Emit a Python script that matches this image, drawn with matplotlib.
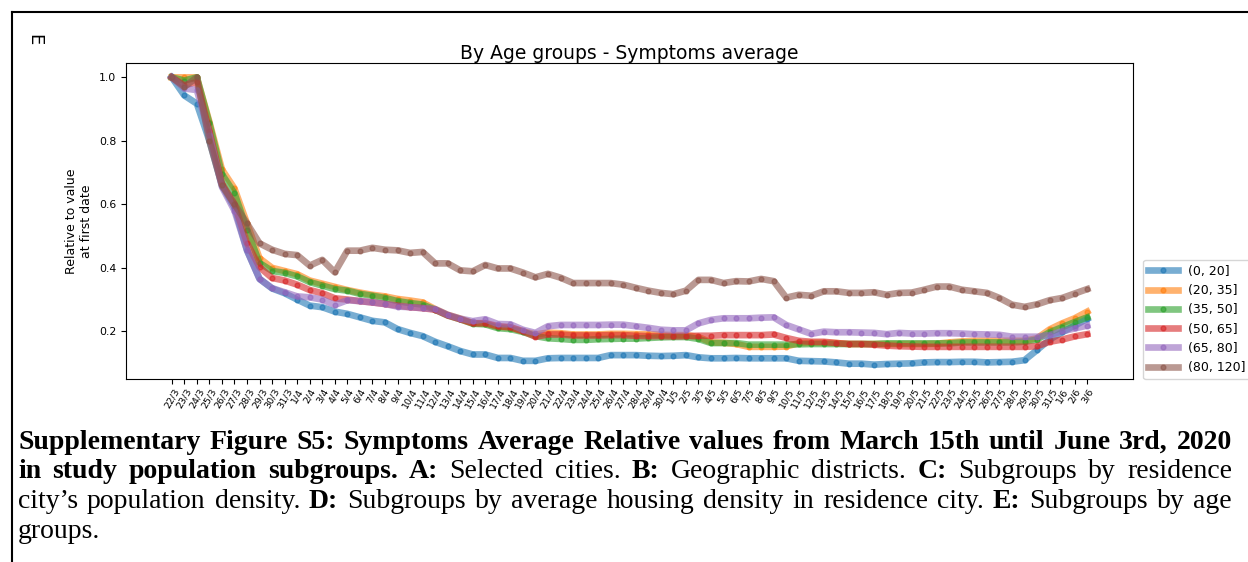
import matplotlib
matplotlib.use("Agg")
import matplotlib.pyplot as plt
from matplotlib.transforms import IdentityTransform

W, H = 1248, 562

dates = ["22/3", "23/3", "24/3", "25/3", "26/3", "27/3", "28/3", "29/3", "30/3", "31/3",
         "1/4", "2/4", "3/4", "4/4", "5/4", "6/4", "7/4", "8/4", "9/4", "10/4",
         "11/4", "12/4", "13/4", "14/4", "15/4", "16/4", "17/4", "18/4", "19/4", "20/4",
         "21/4", "22/4", "23/4", "24/4", "25/4", "26/4", "27/4", "28/4", "29/4", "30/4",
         "1/5", "2/5", "3/5", "4/5", "5/5", "6/5", "7/5", "8/5", "9/5", "10/5",
         "11/5", "12/5", "13/5", "14/5", "15/5", "16/5", "17/5", "18/5", "19/5", "20/5",
         "21/5", "22/5", "23/5", "24/5", "25/5", "26/5", "27/5", "28/5", "29/5", "30/5",
         "31/5", "1/6", "2/6", "3/6"]

groups = ["(0, 20]", "(20, 35]", "(35, 50]", "(50, 65]", "(65, 80]", "(80, 120]"]

age_0_20 = [1.0, 0.943, 0.917, 0.80, 0.66, 0.59, 0.455, 0.365, 0.335, 0.32,
            0.30, 0.281, 0.276, 0.262, 0.255, 0.244, 0.233, 0.228, 0.207, 0.195,
            0.185, 0.167, 0.153, 0.138, 0.127, 0.127, 0.116, 0.116, 0.107, 0.107,
            0.115, 0.116, 0.116, 0.116, 0.116, 0.125, 0.125, 0.125, 0.123, 0.122,
            0.123, 0.125, 0.118, 0.115, 0.115, 0.116, 0.115, 0.115, 0.115, 0.115,
            0.107, 0.106, 0.105, 0.102, 0.098, 0.098, 0.095, 0.097, 0.098, 0.099,
            0.102, 0.103, 0.103, 0.104, 0.104, 0.102, 0.103, 0.104, 0.109, 0.141,
            0.174, 0.197, 0.218, 0.239]
age_20_35 = [1.0, 1.0, 1.0, 0.86, 0.71, 0.65, 0.54, 0.43, 0.40, 0.39,
             0.38, 0.36, 0.35, 0.34, 0.33, 0.322, 0.315, 0.31, 0.302, 0.297,
             0.291, 0.27, 0.252, 0.24, 0.226, 0.224, 0.214, 0.212, 0.20, 0.19,
             0.196, 0.194, 0.19, 0.19, 0.19, 0.192, 0.192, 0.191, 0.191, 0.189,
             0.188, 0.188, 0.182, 0.165, 0.164, 0.16, 0.151, 0.151, 0.151, 0.152,
             0.163, 0.164, 0.164, 0.163, 0.16, 0.16, 0.16, 0.16, 0.16, 0.16,
             0.16, 0.161, 0.165, 0.168, 0.17, 0.17, 0.17, 0.17, 0.17, 0.178,
             0.206, 0.225, 0.241, 0.262]
age_35_50 = [1.0, 0.99, 1.0, 0.855, 0.695, 0.635, 0.52, 0.415, 0.39, 0.384,
             0.373, 0.355, 0.344, 0.333, 0.328, 0.318, 0.312, 0.305, 0.295, 0.289,
             0.284, 0.268, 0.25, 0.238, 0.224, 0.222, 0.21, 0.207, 0.198, 0.185,
             0.178, 0.176, 0.173, 0.173, 0.175, 0.176, 0.177, 0.177, 0.179, 0.181,
             0.182, 0.182, 0.176, 0.163, 0.163, 0.163, 0.158, 0.158, 0.158, 0.158,
             0.159, 0.16, 0.16, 0.16, 0.16, 0.16, 0.16, 0.162, 0.162, 0.162,
             0.162, 0.162, 0.162, 0.165, 0.165, 0.165, 0.165, 0.165, 0.167, 0.174,
             0.197, 0.213, 0.229, 0.244]
age_50_65 = [1.0, 0.975, 0.985, 0.83, 0.665, 0.60, 0.478, 0.402, 0.368, 0.36,
             0.347, 0.33, 0.32, 0.304, 0.30, 0.295, 0.291, 0.286, 0.281, 0.276,
             0.273, 0.268, 0.25, 0.238, 0.225, 0.226, 0.216, 0.213, 0.20, 0.183,
             0.19, 0.19, 0.187, 0.187, 0.187, 0.188, 0.188, 0.186, 0.185, 0.185,
             0.184, 0.185, 0.186, 0.186, 0.188, 0.188, 0.188, 0.188, 0.19, 0.179,
             0.17, 0.167, 0.167, 0.163, 0.16, 0.16, 0.158, 0.155, 0.153, 0.152,
             0.151, 0.151, 0.151, 0.151, 0.151, 0.151, 0.151, 0.151, 0.151, 0.153,
             0.167, 0.174, 0.184, 0.191]
age_65_80 = [1.0, 0.965, 0.96, 0.82, 0.655, 0.58, 0.455, 0.365, 0.336, 0.323,
             0.31, 0.307, 0.30, 0.283, 0.298, 0.295, 0.291, 0.286, 0.278, 0.276,
             0.273, 0.27, 0.252, 0.24, 0.232, 0.238, 0.223, 0.222, 0.205, 0.195,
             0.216, 0.22, 0.22, 0.22, 0.22, 0.221, 0.221, 0.216, 0.211, 0.205,
             0.203, 0.203, 0.225, 0.236, 0.241, 0.241, 0.241, 0.243, 0.244, 0.22,
             0.206, 0.192, 0.199, 0.197, 0.197, 0.196, 0.195, 0.191, 0.195, 0.193,
             0.193, 0.194, 0.194, 0.193, 0.191, 0.19, 0.189, 0.183, 0.183, 0.183,
             0.188, 0.20, 0.209, 0.218]
age_80_120 = [1.0, 0.97, 1.0, 0.80, 0.66, 0.60, 0.54, 0.477, 0.457, 0.444,
              0.44, 0.407, 0.425, 0.386, 0.454, 0.454, 0.463, 0.457, 0.455, 0.447,
              0.45, 0.414, 0.414, 0.392, 0.389, 0.409, 0.398, 0.398, 0.385, 0.37,
              0.381, 0.369, 0.352, 0.352, 0.352, 0.352, 0.347, 0.337, 0.328, 0.321,
              0.317, 0.328, 0.362, 0.362, 0.352, 0.358, 0.357, 0.365, 0.358, 0.306,
              0.315, 0.312, 0.326, 0.326, 0.321, 0.321, 0.323, 0.315, 0.321, 0.322,
              0.331, 0.341, 0.341, 0.331, 0.326, 0.321, 0.305, 0.284, 0.277, 0.285,
              0.298, 0.305, 0.319, 0.333]

series = [age_0_20, age_20_35, age_35_50, age_50_65, age_65_80, age_80_120]

# caption lines: (word, bold)
cap1 = [(w, True) for w in "Supplementary Figure S5: Symptoms Average Relative values from March 15th until June 3rd, 2020".split()]
cap2 = [(w, True) for w in "in study population subgroups. A:".split()] + \
       [("Selected", False), ("cities.", False), ("B:", True), ("Geographic", False), ("districts.", False),
        ("C:", True), ("Subgroups", False), ("by", False), ("residence", False)]
cap3 = [(w, False) for w in "city\u2019s population density.".split()] + [("D:", True)] + \
       [(w, False) for w in "Subgroups by average housing density in residence city.".split()] + \
       [("E:", True)] + [(w, False) for w in "Subgroups by age".split()]
cap4 = [("groups.", False)]


def put_line(fig, r, ybase, tokens, x0, x1, size, justify=True):
    objs = []
    for word, bold in tokens:
        t = fig.text(0, H - ybase, word, transform=IdentityTransform(), fontsize=size,
                     family="Liberation Serif", weight="bold" if bold else "normal",
                     va="baseline", ha="left")
        objs.append(t)
    widths = [t.get_window_extent(renderer=r).width for t in objs]
    if justify and len(objs) > 1:
        gap = (x1 - x0 - sum(widths)) / (len(objs) - 1)
    else:
        gap = size * 0.25 * 100 / 72
    x = x0
    for t, w in zip(objs, widths):
        t.set_x(x)
        x += w + gap


fig = plt.figure(figsize=(W / 100, H / 100), dpi=100)
ax = fig.add_axes([126 / W, 1 - 379 / H, (1133 - 126) / W, (379 - 63) / H])

x = list(range(len(dates)))
for vals, name in zip(series, groups):
    ax.plot(x, vals, marker="o", markersize=3.4, linewidth=4.8, alpha=0.6, label=name)

ax.set_xticks(x)
ax.set_xticklabels(dates, rotation=60, fontsize=6.8)
ax.tick_params(axis="y", labelsize=7.8)
ax.tick_params(axis="x", length=3.5, pad=2)
ax.set_yticks([0.2, 0.4, 0.6, 0.8, 1.0])
ax.set_ylabel("Relative to value\nat first date", fontsize=9)
ax.set_title("By Age groups - Symptoms average", fontsize=13.5, pad=3)
ax.legend(loc="lower left", bbox_to_anchor=(1.01, 0), borderaxespad=0,
          fontsize=9, handlelength=2.4)

fig.text(34 / W, 1 - 40 / H, "E", rotation=-90, fontsize=13, ha="center", va="center")

# frame around the panel
fig.add_artist(plt.Line2D([12 / W, 12 / W], [0, 1 - 12 / H], color="black", lw=1.5,
                          transform=fig.transFigure))
fig.add_artist(plt.Line2D([12 / W, 1], [1 - 12 / H, 1 - 12 / H], color="black", lw=1.5,
                          transform=fig.transFigure))

r = fig.canvas.get_renderer()
put_line(fig, r, 449, cap1, 18, 1232, 20)
put_line(fig, r, 478.5, cap2, 18, 1232, 20)
put_line(fig, r, 508, cap3, 18, 1232, 20)
put_line(fig, r, 537.5, cap4, 18, 1232, 20, justify=False)

fig.savefig("out.png", dpi=100)
